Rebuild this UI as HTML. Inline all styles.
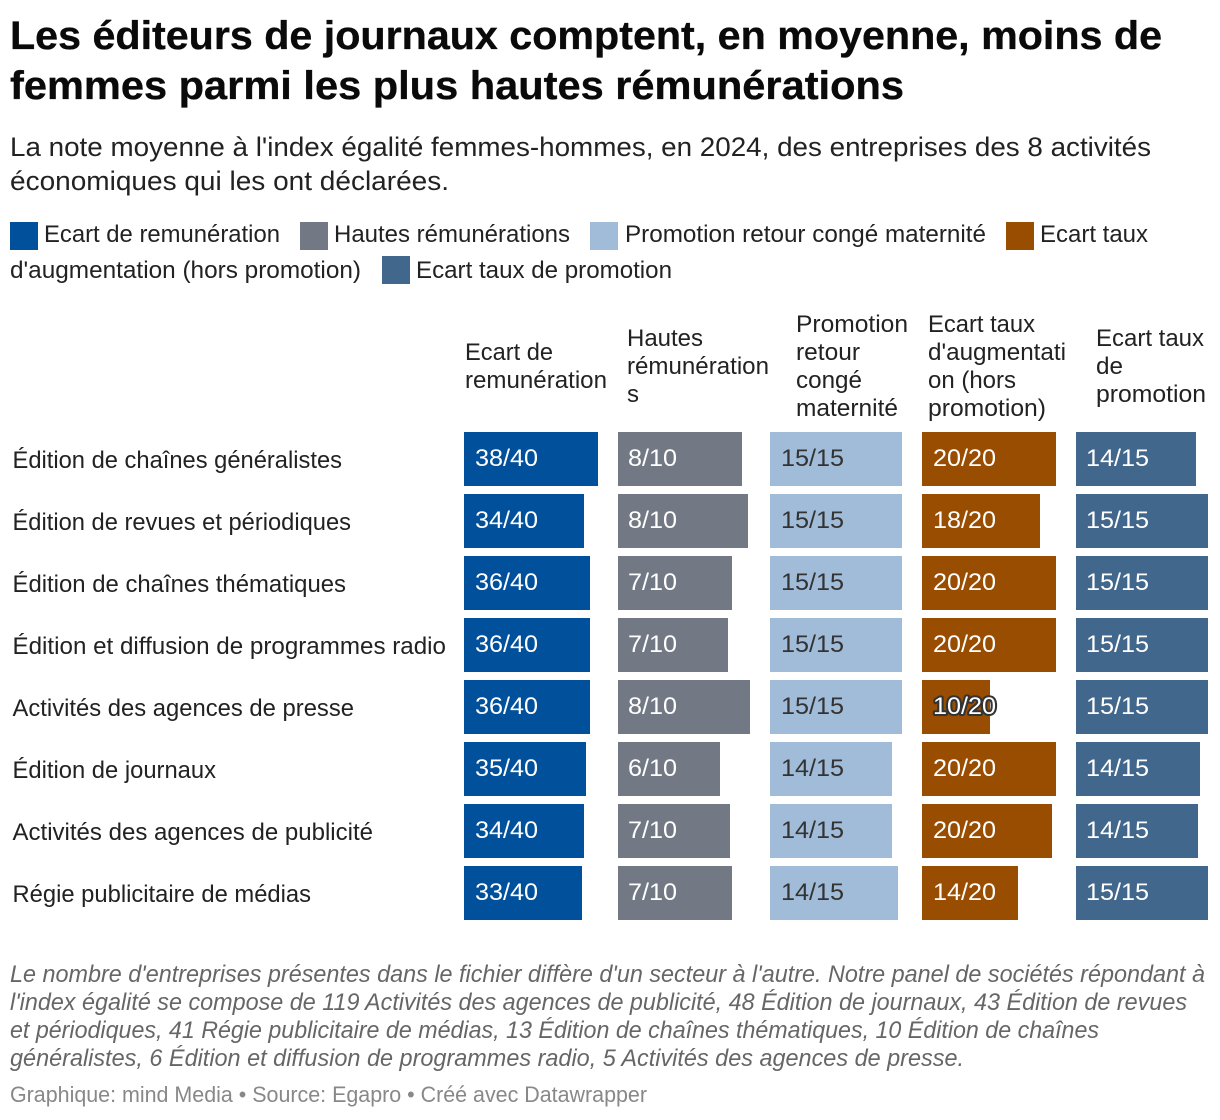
<!DOCTYPE html>
<html lang="fr">
<head>
<meta charset="utf-8">
<title>Les éditeurs de journaux</title>
<style>
html,body{margin:0;padding:0;background:#fff}
svg{display:block;font-family:"Liberation Sans",sans-serif}
.h{font-size:40px;font-weight:700;fill:#0a0a0a;stroke:#0a0a0a;stroke-width:.35px}
.s{font-size:27px;fill:#222}
.l{font-size:24px;fill:#222}
.c{font-size:24px;fill:#222}
.r{font-size:24px;fill:#222}
.n{font-size:24px;font-style:italic;fill:#666}
.b{font-size:22px;fill:#888}
</style>
</head>
<body>
<svg id="chart" xmlns="http://www.w3.org/2000/svg" width="1220" height="1120" viewBox="0 0 1220 1120">
<rect width="1220" height="1120" fill="#fff"/>
<text class="h" x="10" y="49" textLength="1152" lengthAdjust="spacingAndGlyphs">Les éditeurs de journaux comptent, en moyenne, moins de</text>
<text class="h" x="10" y="99" textLength="894" lengthAdjust="spacingAndGlyphs">femmes parmi les plus hautes rémunérations</text>
<text class="s" x="10" y="156" textLength="1141" lengthAdjust="spacingAndGlyphs">La note moyenne à l'index égalité femmes-hommes, en 2024, des entreprises des 8 activités</text>
<text class="s" x="10" y="190" textLength="439" lengthAdjust="spacingAndGlyphs">économiques qui les ont déclarées.</text>

<g>
<rect x="10" y="222" width="28" height="28" fill="#00509B"/>
<text class="l" x="44" y="242" textLength="236" lengthAdjust="spacingAndGlyphs">Ecart de remunération</text>
<rect x="300" y="222" width="28" height="28" fill="#727985"/>
<text class="l" x="334" y="242" textLength="236" lengthAdjust="spacingAndGlyphs">Hautes rémunérations</text>
<rect x="590" y="222" width="28" height="28" fill="#A0BCD9"/>
<text class="l" x="625" y="242" textLength="361" lengthAdjust="spacingAndGlyphs">Promotion retour congé maternité</text>
<rect x="1006" y="222" width="28" height="28" fill="#994D00"/>
<text class="l" x="1040" y="242" textLength="108" lengthAdjust="spacingAndGlyphs">Ecart taux</text>
<text class="l" x="10" y="278" textLength="351" lengthAdjust="spacingAndGlyphs">d'augmentation (hors promotion)</text>
<rect x="382" y="256" width="28" height="28" fill="#41678C"/>
<text class="l" x="416" y="278" textLength="256" lengthAdjust="spacingAndGlyphs">Ecart taux de promotion</text>
</g>

<g>
<text class="c" x="465" y="360" textLength="88" lengthAdjust="spacingAndGlyphs">Ecart de</text>
<text class="c" x="465" y="388" textLength="142" lengthAdjust="spacingAndGlyphs">remunération</text>
<text class="c" x="627" y="346" textLength="76" lengthAdjust="spacingAndGlyphs">Hautes</text>
<text class="c" x="627" y="374" textLength="142" lengthAdjust="spacingAndGlyphs">rémunération</text>
<text class="c" x="627" y="402">s</text>
<text class="c" x="796" y="332" textLength="112" lengthAdjust="spacingAndGlyphs">Promotion</text>
<text class="c" x="796" y="360" textLength="64" lengthAdjust="spacingAndGlyphs">retour</text>
<text class="c" x="796" y="388" textLength="66" lengthAdjust="spacingAndGlyphs">congé</text>
<text class="c" x="796" y="416" textLength="102" lengthAdjust="spacingAndGlyphs">maternité</text>
<text class="c" x="928" y="332" textLength="107" lengthAdjust="spacingAndGlyphs">Ecart taux</text>
<text class="c" x="928" y="360" textLength="138" lengthAdjust="spacingAndGlyphs">d'augmentati</text>
<text class="c" x="928" y="388" textLength="88" lengthAdjust="spacingAndGlyphs">on (hors</text>
<text class="c" x="928" y="416" textLength="118" lengthAdjust="spacingAndGlyphs">promotion)</text>
<text class="c" x="1096" y="346" textLength="108" lengthAdjust="spacingAndGlyphs">Ecart taux</text>
<text class="c" x="1096" y="374" textLength="27" lengthAdjust="spacingAndGlyphs">de</text>
<text class="c" x="1096" y="402" textLength="110" lengthAdjust="spacingAndGlyphs">promotion</text>
</g>

<g>
<text class="r" x="12.5" y="468" textLength="329.5" lengthAdjust="spacingAndGlyphs">Édition de chaînes généralistes</text>
<text class="r" x="12.5" y="530" textLength="338.5" lengthAdjust="spacingAndGlyphs">Édition de revues et périodiques</text>
<text class="r" x="12.5" y="592" textLength="333.5" lengthAdjust="spacingAndGlyphs">Édition de chaînes thématiques</text>
<text class="r" x="12.5" y="654" textLength="433.5" lengthAdjust="spacingAndGlyphs">Édition et diffusion de programmes radio</text>
<text class="r" x="12.5" y="716" textLength="341.5" lengthAdjust="spacingAndGlyphs">Activités des agences de presse</text>
<text class="r" x="12.5" y="778" textLength="203.5" lengthAdjust="spacingAndGlyphs">Édition de journaux</text>
<text class="r" x="12.5" y="840" textLength="360.5" lengthAdjust="spacingAndGlyphs">Activités des agences de publicité</text>
<text class="r" x="12.5" y="902" textLength="298.5" lengthAdjust="spacingAndGlyphs">Régie publicitaire de médias</text>
</g>

<g id="rows"></g>

<g>
<text class="n" x="10" y="982" textLength="1195" lengthAdjust="spacingAndGlyphs">Le nombre d'entreprises présentes dans le fichier diffère d'un secteur à l'autre. Notre panel de sociétés répondant à</text>
<text class="n" x="10" y="1010" textLength="1177" lengthAdjust="spacingAndGlyphs">l'index égalité se compose de 119 Activités des agences de publicité, 48 Édition de journaux, 43 Édition de revues</text>
<text class="n" x="10" y="1038" textLength="1089" lengthAdjust="spacingAndGlyphs">et périodiques, 41 Régie publicitaire de médias, 13 Édition de chaînes thématiques, 10 Édition de chaînes</text>
<text class="n" x="10" y="1066" textLength="954" lengthAdjust="spacingAndGlyphs">généralistes, 6 Édition et diffusion de programmes radio, 5 Activités des agences de presse.</text>
<text class="b" x="10" y="1102" textLength="637" lengthAdjust="spacingAndGlyphs">Graphique: mind Media • Source: Egapro • Créé avec Datawrapper</text>
</g>
</svg>
<script>
const categories = ["Édition de chaînes généralistes", "Édition de revues et périodiques", "Édition de chaînes thématiques", "Édition et diffusion de programmes radio", "Activités des agences de presse", "Édition de journaux", "Activités des agences de publicité", "Régie publicitaire de médias"];
const remunerationValues = [38, 34, 35.7, 35.7, 35.7, 34.6, 34, 33.4];
const remunerationLabels = ["38/40", "34/40", "36/40", "36/40", "36/40", "35/40", "34/40", "33/40"];
const hautesValues = [7.9, 8.27, 7.25, 7, 8.4, 6.49, 7.13, 7.25];
const hautesLabels = ["8/10", "8/10", "7/10", "7/10", "8/10", "6/10", "7/10", "7/10"];
const retourValues = [15, 15, 15, 15, 15, 13.9, 13.9, 14.5];
const retourLabels = ["15/15", "15/15", "15/15", "15/15", "15/15", "14/15", "14/15", "14/15"];
const augmentationValues = [20, 17.6, 20, 20, 10.1, 20, 19.4, 14.3];
const augmentationLabels = ["20/20", "18/20", "20/20", "20/20", "10/20", "20/20", "20/20", "14/20"];
const promotionValues = [13.6, 15, 15, 15, 15, 14.1, 13.9, 15];
const promotionLabels = ["14/15", "15/15", "15/15", "15/15", "15/15", "14/15", "14/15", "15/15"];
const axisMaximums = [38, 8.4, 15, 20, 15];

const seriesNames = ["ecart-remuneration", "hautes-remunerations", "promotion-retour", "ecart-augmentation", "ecart-promotion"];
const seriesColors = ["#00509B", "#727985", "#A0BCD9", "#994D00", "#41678C"];
const seriesValues = [remunerationValues, hautesValues, retourValues, augmentationValues, promotionValues];
const seriesLabels = [remunerationLabels, hautesLabels, retourLabels, augmentationLabels, promotionLabels];

const NS = "http://www.w3.org/2000/svg";
const root = document.getElementById("rows");

function rowY(i) { return 432 + i * 62; }
function columnX(j) { return 464 + 152 * j + (j >= 1 ? 2 : 0) + (j >= 4 ? 2 : 0); }
function columnWidth(j) { return j % 3 === 0 ? 134 : 132; }
function barWidth(j, v) { return Math.round(v / axisMaximums[j] * columnWidth(j)); }
function valueX(j) { return columnX(j) + (j === 1 || j === 4 ? 10 : 11); }

const VALUE_STRETCH = 1.05;

categories.forEach(function (name, i) {
  seriesValues.forEach(function (values, j) {
    const w = barWidth(j, values[i]);
    const bar = document.createElementNS(NS, "rect");
    
    
    bar.setAttribute("aria-label", name);
    bar.setAttribute("x", columnX(j));
    bar.setAttribute("y", rowY(i));
    bar.setAttribute("width", w);
    bar.setAttribute("height", 54);
    bar.setAttribute("fill", seriesColors[j]);
    root.appendChild(bar);

    const value = document.createElementNS(NS, "text");
    
    
    value.setAttribute("x", valueX(j));
    value.setAttribute("y", rowY(i) + 34);
    value.setAttribute("font-size", "24");
    value.setAttribute("fill", j === 2 ? "#333" : "#fff");
    value.textContent = seriesLabels[j][i];
    if (w < 80) {
      value.setAttribute("stroke", "#333");
      value.setAttribute("stroke-width", "4");
      value.setAttribute("paint-order", "stroke");
      value.setAttribute("stroke-linejoin", "round");
    }
    root.appendChild(value);
    value.setAttribute("textLength", value.getComputedTextLength() * VALUE_STRETCH);
    value.setAttribute("lengthAdjust", "spacingAndGlyphs");
  });
});
</script>
</body>
</html>
